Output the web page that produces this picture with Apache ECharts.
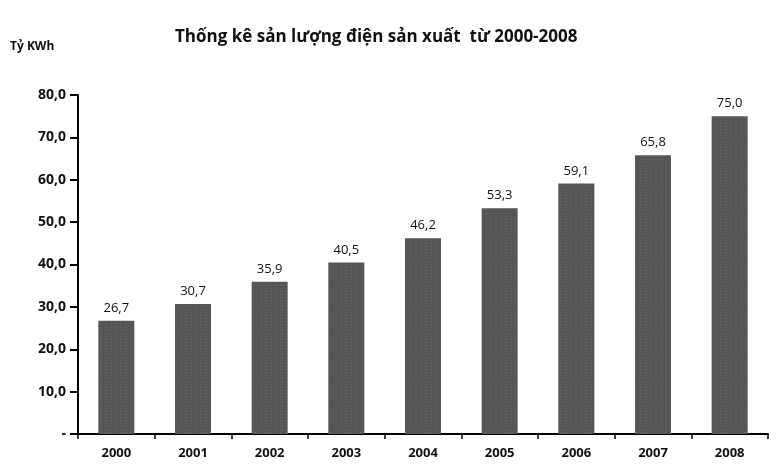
<!DOCTYPE html>
<html>
<head>
<meta charset="utf-8">
<script src="https://cdn.jsdelivr.net/npm/echarts@6/dist/echarts.min.js"></script>
<style>
html, body { margin: 0; padding: 0; background: #fff; }
#main { width: 778px; height: 466px; }
</style>
</head>
<body>
<div id="main"></div>
<script>
// năm
var years = ['2000', '2001', '2002', '2003', '2004', '2005', '2006', '2007', '2008'];
// sản lượng điện (tỷ KWh)
var output = [26.7, 30.7, 35.9, 40.5, 46.2, 53.3, 59.1, 65.8, 75.0];

function comma(v, d) {
    return v.toFixed(d).replace('.', ',');
}

var myChart = echarts.init(document.getElementById('main'));
myChart.setOption({
    backgroundColor: '#fff',
    title: {
        text: 'Thống kê sản lượng điện sản xuất  từ 2000-2008',
        left: 170,
        top: 24,
        textStyle: {
            fontFamily: 'Open Sans',
            fontSize: 17,
            fontWeight: 'bold',
            color: '#111'
        }
    },
    grid: {
        left: 78,
        right: 10,
        top: 95,
        bottom: 32
    },
    xAxis: {
        type: 'category',
        data: years,
        axisLine: { lineStyle: { color: '#000', width: 2 } },
        axisTick: { show: true, length: 5, lineStyle: { color: '#000', width: 1.5 } },
        axisLabel: {
            margin: 13,
            fontFamily: 'Open Sans',
            fontWeight: 'bold',
            fontSize: 13,
            color: '#111'
        }
    },
    yAxis: {
        type: 'value',
        min: 0,
        max: 80,
        interval: 10,
        name: 'Tỷ KWh',
        nameLocation: 'end',
        nameGap: 42,
        nameTextStyle: {
            align: 'left',
            padding: [0, 0, 0, -68],
            fontFamily: 'Open Sans',
            fontWeight: 'bold',
            fontSize: 12,
            color: '#111'
        },
        axisLine: { show: true, lineStyle: { color: '#000', width: 2 } },
        axisTick: { show: true, length: 8, lineStyle: { color: '#000', width: 2 } },
        splitLine: { show: false },
        axisLabel: {
            margin: 12,
            fontFamily: 'Open Sans',
            fontWeight: 'bold',
            fontSize: 14,
            color: '#111',
            formatter: function (v) {
                return v === 0 ? '-' : comma(v, 1);
            }
        }
    },
    series: [
        {
            name: 'Sản lượng',
            type: 'bar',
            data: output,
            barWidth: 36,
            itemStyle: {
                color: '#555',
                decal: {
                    symbol: 'rect',
                    symbolSize: 0.5,
                    color: 'rgba(255,255,255,0.25)',
                    dashArrayX: [2, 3],
                    dashArrayY: [1, 2],
                    rotation: 0
                }
            },
            label: {
                show: true,
                position: 'top',
                distance: 6,
                fontFamily: 'Open Sans',
                fontSize: 13,
                color: '#111',
                formatter: function (p) {
                    return comma(p.value, 1);
                }
            }
        }
    ]
});
</script>
</body>
</html>
